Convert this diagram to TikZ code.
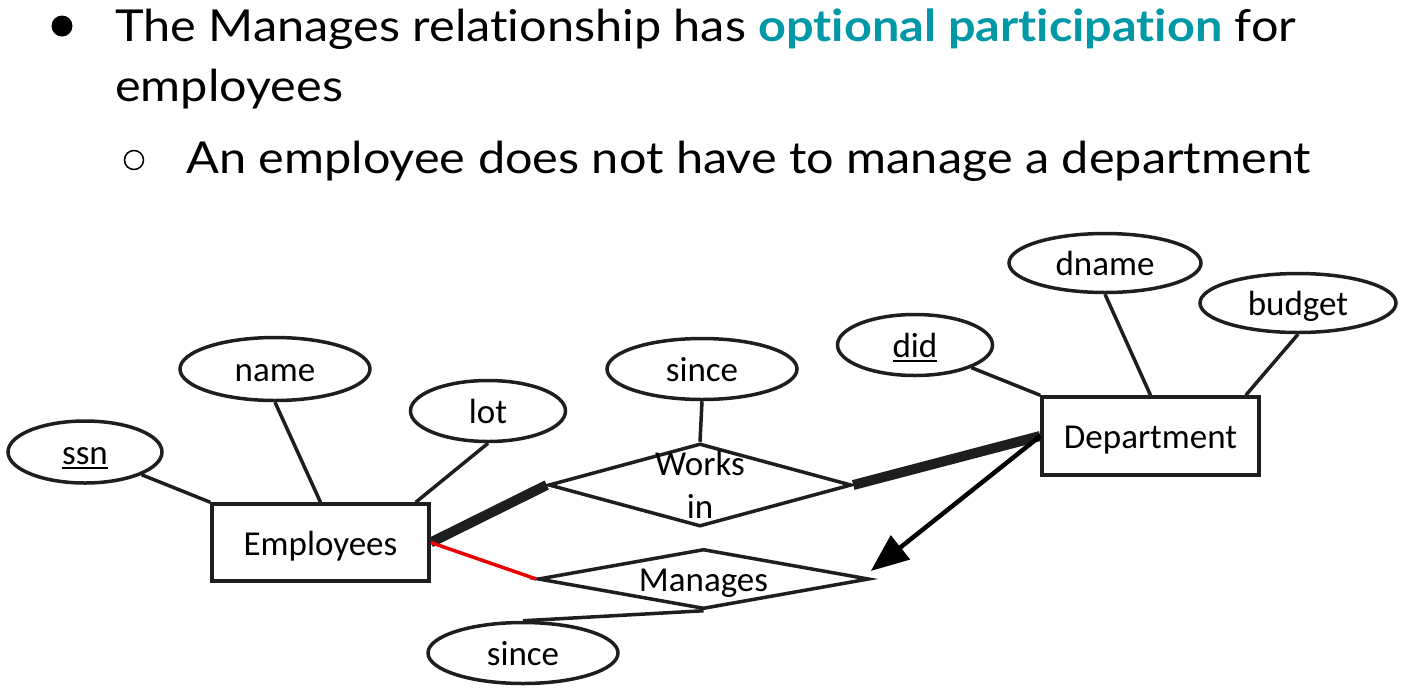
\documentclass[tikz,border=0pt]{standalone}
\usepackage{fontspec}
\setmainfont{Carlito}
\newfontfamily\headfont{Lato}[FakeStretch=1.105, Ligatures=NoCommon]
\usetikzlibrary{shapes.geometric,arrows.meta}
\definecolor{ink}{RGB}{30,30,30}
\definecolor{accent}{RGB}{0,151,167}
\definecolor{optred}{RGB}{235,0,0}
% underlined key attribute
\newcommand\keyattr[1]{\setbox0=\hbox{#1}\rlap{\rule[-4pt]{\wd0}{2pt}}\box0}
\begin{document}
\begin{tikzpicture}[x=1pt,y=-1pt,
  head/.style={anchor=base west, inner sep=0pt, font=\headfont\fontsize{44}{50}\selectfont},
  erfont/.style={font=\fontsize{35}{43}\selectfont},
  attr/.style={ellipse, draw=ink, line width=3.5pt, inner sep=0pt, erfont, text height=25pt, text depth=0pt},
  entity/.style={rectangle, draw=ink, line width=3.5pt, inner sep=0pt, erfont, text height=25pt, text depth=0pt},
  rel/.style={diamond, draw=ink, line width=3.5pt, inner sep=0pt},
  rellabel/.style={erfont, align=center, inner sep=0pt},
  link/.style={draw=ink, line width=3.5pt},
  total/.style={draw=ink, line width=10pt},
  optional/.style={draw=optred, line width=3.5pt},
  keyarrow/.style={draw=black, line width=4.5pt, -{Triangle[length=38pt,width=30pt]}}
]
\useasboundingbox (0,0) rectangle (1421,689);

% bullet text
\fill[black] (62,26) circle (10.5pt);
\node[head] (l1) at (115,41) {The Manages relationship has {\bfseries\color{accent}optional participation} for};
\node[head] (l2) at (115,101) {employees};
\draw[black, line width=1.5pt] (134,160) circle (9.5pt);
\node[head] (l3) at (186,173) {An employee does not have to manage a department};

% entities
\node[entity, minimum width=217pt, minimum height=77pt] (emp) at (320.5,542.5) {Employees};
\node[entity, minimum width=217pt, minimum height=78pt] (dept) at (1150.5,436) {Department};

% attributes
\node[attr, minimum width=154pt, minimum height=62pt] (ssn) at (85,452) {\keyattr{ssn}};
\node[attr, minimum width=190pt, minimum height=63pt] (name) at (275,369) {name};
\node[attr, minimum width=155pt, minimum height=61pt] (lot) at (488,411) {lot};
\node[attr, minimum width=190pt, minimum height=61pt] (since1) at (702,369) {since};
\node[attr, minimum width=190pt, minimum height=61pt] (since2) at (523,653) {since};
\node[attr, minimum width=155pt, minimum height=61pt] (did) at (915,345) {\keyattr{did}};
\node[attr, minimum width=192pt, minimum height=59pt] (dname) at (1105,263) {dname};
\node[attr, minimum width=196pt, minimum height=59pt] (budget) at (1298,303) {budget};

% relationships
\node[rel, minimum width=303pt, minimum height=83pt,
  label={[rellabel]center:Works\\in}] (works) at (700,485) {};
\node[rel, minimum width=331pt, minimum height=60pt,
  label={[rellabel, yshift=-4pt]center:Manages}] (man) at (703.5,579) {};

% attribute links
\draw[link] (emp.north west) -- (ssn);
\draw[link] (name.south) -- (emp.north);
\draw[link] (lot.south) -- ([xshift=-15pt]emp.north east);
\draw[link] (dept.north west) -- (did);
\draw[link] (dname.south) -- (dept.north);
\draw[link] (budget.south) -- ([xshift=-15pt]dept.north east);
\draw[link] (since1.south) -- (works.north);
\draw[link] (man.south) -- (since2.north);

% participation
\draw[total] (emp.east) -- (works.west);
\draw[total] (works.east) -- (dept.west);
\draw[optional] (emp.east) -- (man.west);
\draw[keyarrow] (dept.west) -- ([yshift=8pt]man.east);
\end{tikzpicture}
\end{document}
